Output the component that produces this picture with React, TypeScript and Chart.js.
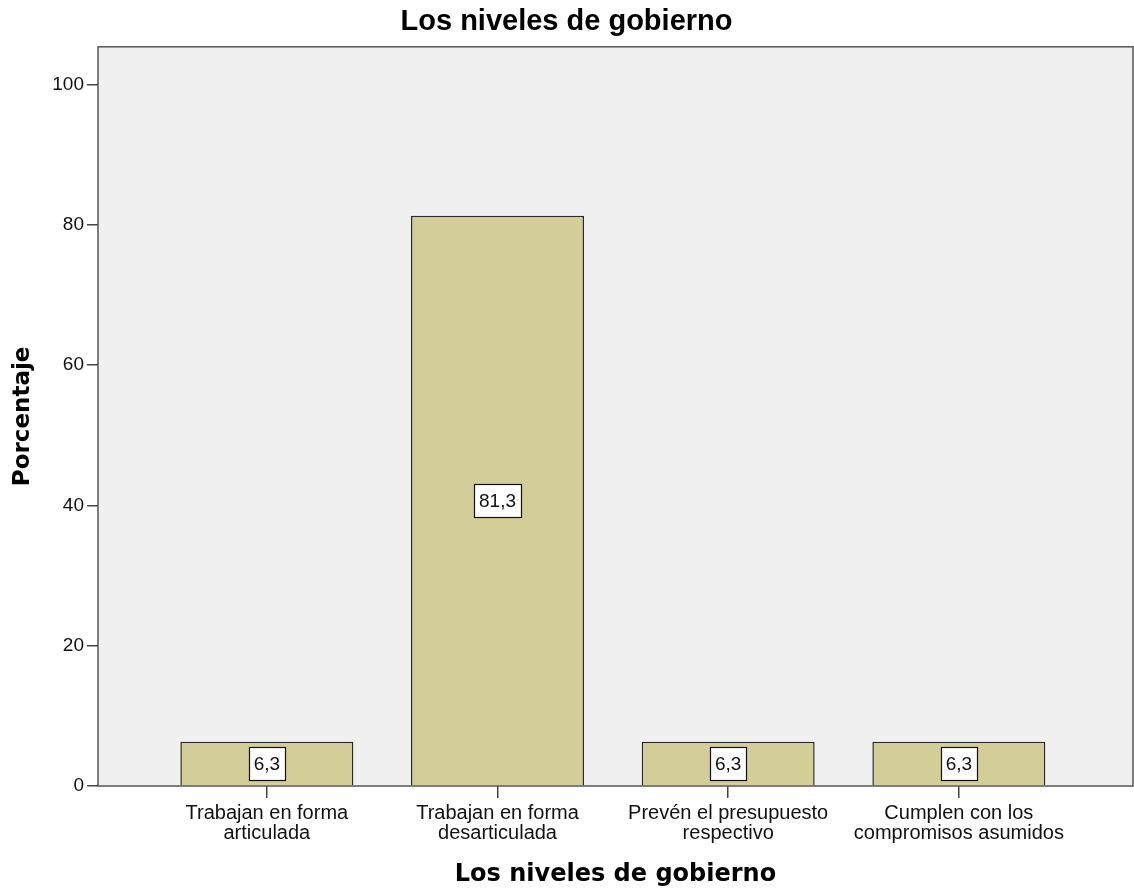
import { useEffect, useRef } from 'react';
import { Chart, registerables } from 'chart.js';

Chart.register(...registerables);

const chartTitle = 'Los niveles de gobierno';
const xAxisTitle = 'Los niveles de gobierno';
const yAxisTitle = 'Porcentaje';
const categories: string[][] = [
  ['Trabajan en forma', 'articulada'],
  ['Trabajan en forma', 'desarticulada'],
  ['Prevén el presupuesto', 'respectivo'],
  ['Cumplen con los', 'compromisos asumidos'],
];
const percentages = [6.3, 81.3, 6.3, 6.3];
const yTicks = [0, 20, 40, 60, 80, 100];
const yMin = 0;
const yMax = 105.4;
const xMin = -0.732;
const xMax = 3.755;

const ARIAL = '"Liberation Sans", Arial, sans-serif';
const DEJAVU = '"DejaVu Sans", sans-serif';

const plotBackground = {
  id: 'plotBackground',
  beforeDraw(chart: any) {
    const { ctx, chartArea: a } = chart;
    ctx.save();
    ctx.fillStyle = '#f0f0f0';
    ctx.fillRect(a.left, a.top, a.right - a.left, a.bottom - a.top);
    ctx.restore();
  },
};

const frameAndLabels = {
  id: 'frameAndLabels',
  afterDatasetsDraw(chart: any) {
    const { ctx, chartArea: a } = chart;
    ctx.save();
    ctx.strokeStyle = '#555555';
    ctx.lineWidth = 1.5;
    ctx.strokeRect(a.left, a.top, a.right - a.left, a.bottom - a.top);

    const meta = chart.getDatasetMeta(0);
    ctx.font = `19px ${ARIAL}`;
    ctx.textAlign = 'center';
    ctx.textBaseline = 'middle';
    meta.data.forEach((bar: any, i: number) => {
      const v = percentages[i];
      const text = v.toFixed(1).replace('.', ',');
      const { x, y, base } = bar.getProps(['x', 'y', 'base'], true);
      const cy = (y + base) / 2;
      const w = Math.round(ctx.measureText(text).width + 10);
      const h = 33;
      const left = Math.round(x - w / 2) + 0.5;
      const top = Math.round(cy - h / 2) + 0.5;
      ctx.fillStyle = '#ffffff';
      ctx.fillRect(left, top, w, h);
      ctx.strokeStyle = '#111111';
      ctx.lineWidth = 1.2;
      ctx.strokeRect(left, top, w, h);
      ctx.fillStyle = '#111111';
      ctx.fillText(text, x, cy + 1);
    });
    ctx.restore();
  },
};

export default function App() {
  const canvasRef = useRef<HTMLCanvasElement | null>(null);

  useEffect(() => {
    document.body.style.margin = '0';
    const canvas = canvasRef.current;
    if (!canvas) return;
    const chart = new Chart(canvas, {
      type: 'bar',
      data: {
        datasets: [
          {
            data: percentages.map((v, i) => ({ x: i, y: v })),
            backgroundColor: '#d3ce97',
            borderColor: '#2a2a2a',
            borderWidth: 1.5,
            barPercentage: 0.75,
            categoryPercentage: 1,
          },
        ],
      },
      options: {
        animation: false,
        responsive: true,
        maintainAspectRatio: false,
        layout: { padding: { left: 0, right: 1, top: 0, bottom: 0 } },
        plugins: {
          legend: { display: false },
          tooltip: { enabled: false },
          title: {
            display: true,
            text: chartTitle,
            color: '#000000',
            font: { family: ARIAL, size: 29, weight: 'bold', lineHeight: 1.2 },
            padding: { top: 5, bottom: 7 },
          },
        },
        scales: {
          x: {
            type: 'linear',
            min: xMin,
            max: xMax,
            offset: false,
            grid: {
              offset: false,
              drawOnChartArea: false,
              drawTicks: true,
              tickLength: 12,
              color: '#444444',
              lineWidth: 1.5,
            },
            border: { display: false },
            afterBuildTicks: (scale: any) => {
              scale.ticks = categories.map((_, i) => ({ value: i }));
            },
            afterFit: (scale: any) => {
              scale.height = 105;
            },
            ticks: {
              autoSkip: false,
              maxRotation: 0,
              minRotation: 0,
              padding: 5,
              color: '#111111',
              font: { family: ARIAL, size: 20, lineHeight: 1.0 },
              callback: (value: any) => categories[Number(value)] ?? '',
            },
            title: {
              display: true,
              text: xAxisTitle,
              color: '#000000',
              font: { family: DEJAVU, size: 24, weight: 'bold', lineHeight: 1.2 },
              padding: { top: 0, bottom: 2 },
            },
          },
          y: {
            type: 'linear',
            min: yMin,
            max: yMax,
            grid: {
              drawOnChartArea: false,
              drawTicks: true,
              tickLength: 11,
              color: '#444444',
              lineWidth: 1.5,
            },
            border: { display: false },
            afterBuildTicks: (scale: any) => {
              scale.ticks = yTicks.map((v) => ({ value: v }));
            },
            afterFit: (scale: any) => {
              scale.width = 98;
            },
            ticks: {
              padding: 3,
              color: '#111111',
              font: { family: ARIAL, size: 19 },
              callback: (value: any) => String(value),
            },
            title: {
              display: true,
              text: yAxisTitle,
              color: '#000000',
              font: { family: DEJAVU, size: 23, weight: 'bold', lineHeight: 1.2 },
              padding: { top: 9, bottom: 0 },
            },
          },
        },
      },
      plugins: [plotBackground, frameAndLabels],
    } as any);
    return () => chart.destroy();
  }, []);

  return (
    <div style={{ position: 'absolute', left: 0, top: 0, width: '1134px', height: '891px' }}>
      <canvas ref={canvasRef} />
    </div>
  );
}
